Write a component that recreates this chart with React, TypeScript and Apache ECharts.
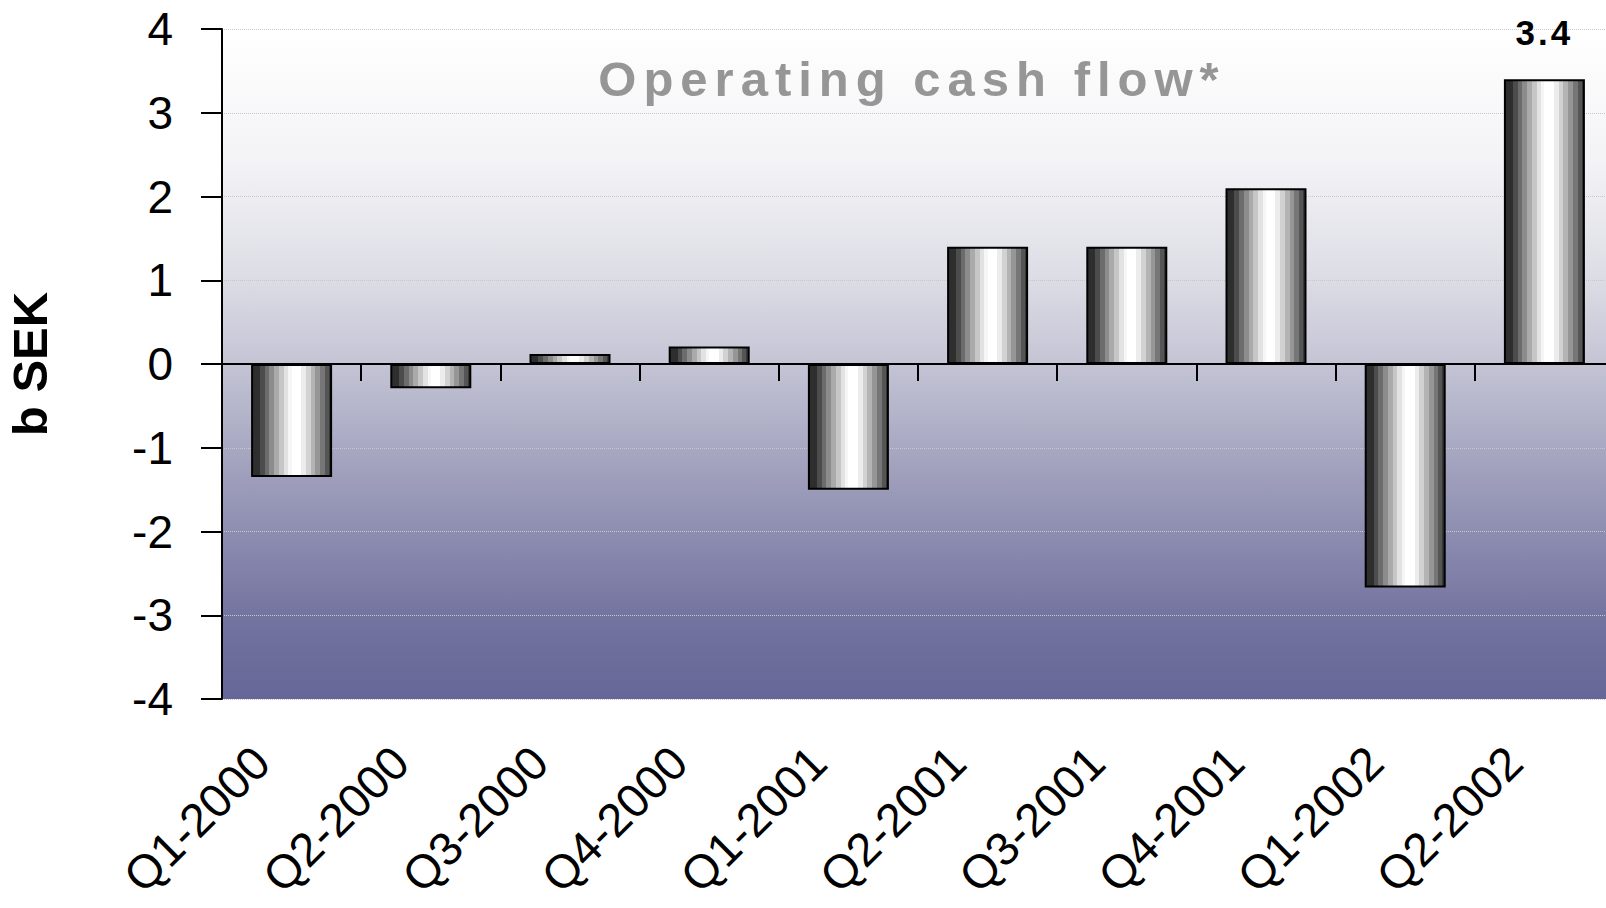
import React, { useEffect, useRef } from "react";
import * as echarts from "echarts";

const categories = [
  "Q1-2000",
  "Q2-2000",
  "Q3-2000",
  "Q4-2000",
  "Q1-2001",
  "Q2-2001",
  "Q3-2001",
  "Q4-2001",
  "Q1-2002",
  "Q2-2002",
];
const cashFlow = [-1.35, -0.29, 0.12, 0.21, -1.5, 1.4, 1.4, 2.1, -2.67, 3.4];
const labeledIndices = [9];
const yMin = -4;
const yMax = 4;
const yInterval = 1;
const chartTitle = "Operating cash flow*";
const yAxisName = "b SEK";

const FONT = "'Liberation Sans', Arial, sans-serif";

const barBands: [number, string][] = [
  [0.0, "#2e2e2e"],
  [0.1, "#4c4c4c"],
  [0.16, "#6c6c6c"],
  [0.22, "#8c8c8c"],
  [0.28, "#aaaaaa"],
  [0.34, "#c6c6c6"],
  [0.4, "#e2e2e2"],
  [0.46, "#f6f6f6"],
  [0.5, "#ffffff"],
  [0.62, "#ececec"],
  [0.68, "#d2d2d2"],
  [0.74, "#b4b4b4"],
  [0.8, "#969696"],
  [0.86, "#767676"],
  [0.92, "#555555"],
  [0.97, "#383838"],
];

function buildBarGradient() {
  const stops: { offset: number; color: string }[] = [];
  barBands.forEach(([start, color], i) => {
    const end = i + 1 < barBands.length ? barBands[i + 1][0] : 1;
    stops.push({ offset: start, color });
    stops.push({ offset: end, color });
  });
  return new echarts.graphic.LinearGradient(0, 0, 1, 0, stops);
}

export default function App() {
  const ref = useRef<HTMLDivElement>(null);

  useEffect(() => {
    if (!ref.current) return;
    const el = ref.current;
    const chart = echarts.init(el, undefined, { renderer: "svg" });

    const bgGradient = new echarts.graphic.LinearGradient(0, 0, 0, 1, [
      { offset: 0, color: "#ffffff" },
      { offset: 0.2, color: "#f3f3f6" },
      { offset: 0.375, color: "#dcdce5" },
      { offset: 0.5, color: "#c4c4d5" },
      { offset: 0.675, color: "#9d9dbb" },
      { offset: 0.875, color: "#7474a0" },
      { offset: 1, color: "#666698" },
    ]);

    const seriesData = cashFlow.map((v, i) =>
      labeledIndices.includes(i) ? { value: v, label: { show: true } } : v
    );

    chart.setOption({
      animation: false,
      backgroundColor: "#ffffff",
      textStyle: { fontFamily: FONT },
      grid: {
        left: 222,
        width: 1392,
        top: 29,
        bottom: 209,
        show: true,
        borderWidth: 0,
        backgroundColor: bgGradient,
        containLabel: false,
        outerBoundsMode: "none",
      },
      xAxis: [
        {
          type: "category",
          data: categories,
          position: "bottom",
          axisLine: { show: true, onZero: true, lineStyle: { color: "#000", width: 2 } },
          axisTick: { show: true, length: 17, lineStyle: { color: "#000", width: 2 } },
          axisLabel: { show: false },
          splitLine: { show: false },
        },
        {
          type: "category",
          data: categories,
          position: "bottom",
          axisLine: { show: false, onZero: false },
          axisTick: { show: false },
          splitLine: { show: false },
          axisLabel: {
            show: true,
            rotate: 45,
            margin: 25,
            padding: [0, 43, 0, 0],
            fontSize: 47,
            color: "#000",
            fontFamily: FONT,
            interval: 0,
          },
        },
      ],
      yAxis: {
        type: "value",
        min: yMin,
        max: yMax,
        interval: yInterval,
        name: yAxisName,
        nameLocation: "middle",
        nameGap: 168,
        nameTextStyle: { fontSize: 49, fontWeight: "bold", color: "#000", fontFamily: FONT },
        axisLine: { show: true, lineStyle: { color: "#000", width: 2 } },
        axisTick: { show: true, length: 21, lineStyle: { color: "#000", width: 2 } },
        axisLabel: { margin: 49, fontSize: 46, color: "#000", fontFamily: FONT },
        splitLine: { show: true, lineStyle: { color: "#c8c8c8", type: "dotted", width: 1 } },
      },
      series: [
        {
          type: "bar",
          xAxisIndex: 0,
          data: seriesData,
          barWidth: 81,
          itemStyle: { color: buildBarGradient(), borderColor: "#000", borderWidth: 2 },
          label: {
            show: false,
            position: "top",
            distance: 29,
            fontSize: 35,
            fontWeight: "bold",
            color: "#000",
            fontFamily: FONT,
            formatter: "{c}",
          },
        },
      ],
      graphic: [
        {
          type: "text",
          x: 912,
          y: 79,
          z: 10,
          style: {
            text: chartTitle,
            align: "center",
            verticalAlign: "middle",
            fontSize: 49,
            fontWeight: "bold",
            fontFamily: FONT,
            fill: "#969696",
          },
        },
      ],
    });

    const spacing: Record<string, string> = { [chartTitle]: "7px" };
    labeledIndices.forEach((i) => (spacing[String(cashFlow[i])] = "3px"));
    const applySpacing = () => {
      el.querySelectorAll("text").forEach((t) => {
        const s = spacing[(t.textContent || "").trim()];
        if (s) (t as SVGTextElement).style.letterSpacing = s;
      });
    };
    chart.on("finished", applySpacing);
    const timer = window.setTimeout(applySpacing, 50);

    return () => {
      window.clearTimeout(timer);
      chart.dispose();
    };
  }, []);

  return (
    <div
      ref={ref}
      style={{ position: "absolute", left: 0, top: 0, width: 1606, height: 908 }}
    />
  );
}
